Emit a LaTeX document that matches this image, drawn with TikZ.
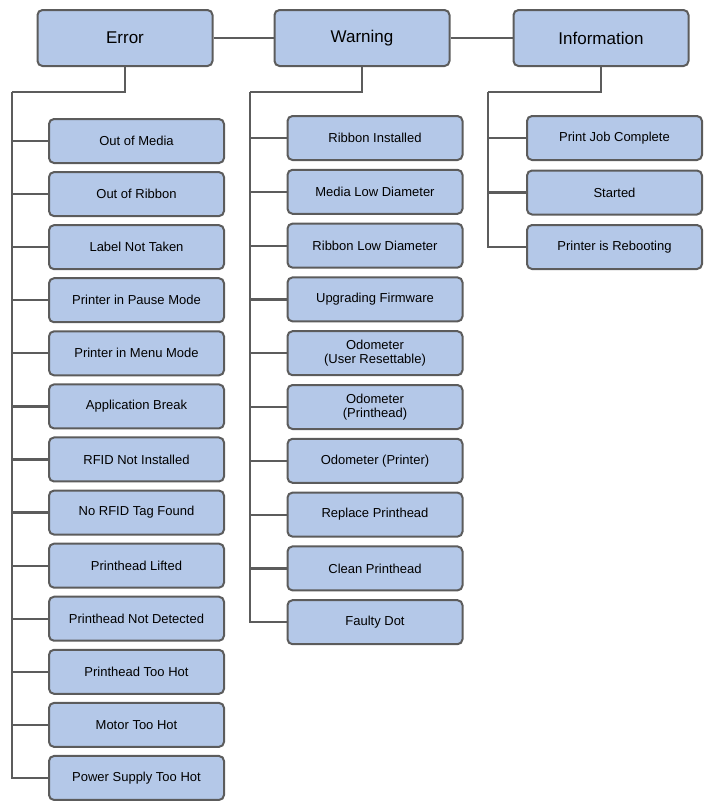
\documentclass[tikz,border=0pt]{standalone}
\usepackage{fontspec}
\setmainfont{Liberation Sans}
\begin{document}
\begin{tikzpicture}[x=1pt,y=-1pt,
  box/.style={draw=gray!40!black!80,line width=2pt,fill=boxc,rounded corners=5pt,minimum width=175pt,minimum height=44pt,align=center,font=\fontsize{13}{14}\selectfont,inner sep=1pt},
  top/.style={box,minimum height=56pt,font=\fontsize{17}{20}\selectfont},
  ln/.style={draw=gray!40!black!80,line width=2.2pt}]
\definecolor{boxc}{RGB}{180,200,232}
\useasboundingbox (0,0) rectangle (707,807);
\node[top] (err) at (125,38) {Error};
\node[top] (warn) at (362,38) {Warning};
\node[top] (info) at (601,38) {Information};
\draw[ln] (err) -- (warn); \draw[ln] (warn) -- (info);
\coordinate (eS) at (12,92); \coordinate (wS) at (250,92); \coordinate (iS) at (488,92);
\draw[ln] (err.south) |- (eS);
\draw[ln] (warn.south) |- (wS);
\draw[ln] (info.south) |- (iS);
\foreach \t [count=\i from 1] in {Out of Media,Out of Ribbon,Label Not Taken,Printer in Pause Mode,Printer in Menu Mode,Application Break,RFID Not Installed,No RFID Tag Found,Printhead Lifted,Printhead Not Detected,Printhead Too Hot,Motor Too Hot,Power Supply Too Hot}{
  \node[box] (e\i) at (136.5,{141+(\i-1)*53.08}) {\t};
  \draw[ln] (eS) |- (e\i.west);}
\foreach \t [count=\i from 1] in {Ribbon Installed,Media Low Diameter,Ribbon Low Diameter,Upgrading Firmware,{Odometer\\(User Resettable)},{Odometer\\(Printhead)},Odometer (Printer),Replace Printhead,Clean Printhead,Faulty Dot}{
  \node[box] (w\i) at (375,{138+(\i-1)*53.8}) {\t};
  \draw[ln] (wS) |- (w\i.west);}
\foreach \t [count=\i from 1] in {Print Job Complete,Started,Printer is Rebooting}{
  \node[box] (n\i) at (614.5,{138+(\i-1)*54.5}) {\t};
  \draw[ln] (iS) |- (n\i.west);}
\end{tikzpicture}
\end{document}
